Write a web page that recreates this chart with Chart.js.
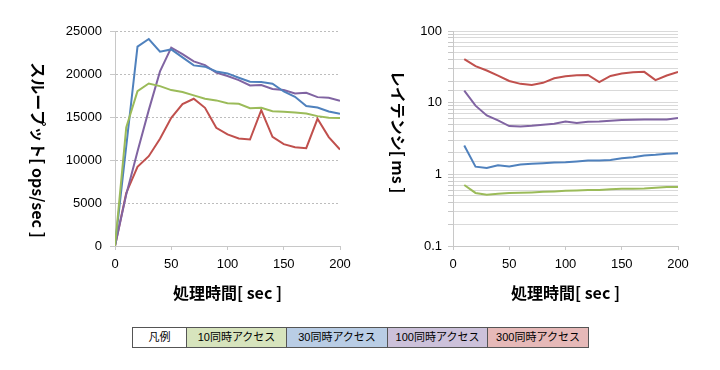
<!DOCTYPE html>
<html lang="ja">
<head>
<meta charset="utf-8">
<script src="https://cdn.jsdelivr.net/npm/chart.js@4/dist/chart.umd.min.js"></script>
<style>
    html, body { margin: 0; padding: 0; background: #fff; }
    body { width: 720px; height: 370px; position: relative; overflow: hidden; }
    .box { position: absolute; top: 0; width: 360px; height: 310px; }
    #legend {
        position: absolute; left: 132px; top: 327px;
        border-collapse: collapse; table-layout: fixed;
        font-family: "Liberation Sans", "Noto Sans CJK JP", sans-serif; font-size: 11px; color: #000;
    }
    #legend td {
        border: 1px solid #555; height: 19px; padding: 0;
        text-align: center; line-height: 19px; white-space: nowrap; overflow: hidden;
    }
</style>
</head>
<body>
<div class="box" style="left:0"><canvas id="throughputChart"></canvas></div>
<div class="box" style="left:360px"><canvas id="latencyChart"></canvas></div>
<table id="legend"><tr></tr></table>

<script>
// 処理時間 [sec]
const throughputTimes = [0, 10, 20, 30, 40, 50, 60, 70, 80, 90, 100, 110, 120, 130, 140, 150, 160, 170, 180, 190, 200];
const latencyTimes = [10, 20, 30, 40, 50, 60, 70, 80, 90, 100, 110, 120, 130, 140, 150, 160, 170, 180, 190, 200];

const seriesNames = ["10同時アクセス", "30同時アクセス", "100同時アクセス", "300同時アクセス"];
const seriesColors = ["#9BBB59", "#4F81BD", "#8064A2", "#C0504D"];
const legendFills = ["#D7E4BD", "#B9CDE5", "#CCC1DA", "#E6B9B8"];

// スループット [ops/sec]
const throughput10 = [0, 13780, 18010, 18900, 18590, 18130, 17900, 17510, 17120, 16930, 16610, 16540, 16030, 16070, 15680, 15600, 15530, 15410, 15100, 14910, 14870];
const throughput30 = [0, 11600, 23180, 24070, 22590, 22860, 21930, 21000, 20850, 20300, 20070, 19570, 19100, 19060, 18870, 17970, 17350, 16270, 16110, 15640, 15370];
const throughput100 = [0, 6000, 11000, 15800, 20300, 23060, 22320, 21470, 21040, 20150, 19760, 19290, 18670, 18710, 18250, 18130, 17740, 17820, 17310, 17240, 16890];
const throughput300 = [0, 6170, 9200, 10440, 12460, 14910, 16500, 17120, 16070, 13740, 12970, 12500, 12380, 15800, 12690, 11840, 11490, 11370, 14790, 12660, 11220];

// レイテンシ [ms]
const latency10 = [0.71, 0.55, 0.52, 0.535, 0.55, 0.553, 0.56, 0.57, 0.578, 0.59, 0.597, 0.603, 0.603, 0.62, 0.63, 0.63, 0.636, 0.65, 0.665, 0.665];
const latency30 = [2.52, 1.28, 1.23, 1.34, 1.29, 1.37, 1.41, 1.43, 1.46, 1.47, 1.51, 1.56, 1.56, 1.59, 1.68, 1.73, 1.83, 1.87, 1.93, 1.97];
const latency100 = [14.7, 9.08, 6.64, 5.65, 4.71, 4.66, 4.76, 4.91, 5.08, 5.47, 5.19, 5.42, 5.47, 5.59, 5.71, 5.78, 5.84, 5.84, 5.84, 6.10];
const latency300 = [40.5, 32.3, 28.1, 23.9, 20.1, 18.3, 17.7, 18.9, 21.9, 23.4, 24.2, 24.4, 19.3, 23.6, 25.5, 26.6, 26.9, 20.6, 23.9, 26.9];

const xTicks = [0, 50, 100, 150, 200];
const throughputTicks = [0, 5000, 10000, 15000, 20000, 25000];
const latencyTicks = [0.1, 1, 10, 100];

const jpFont = '"Noto Sans CJK JP", sans-serif';
const numFont = '"Liberation Sans", Arial, sans-serif';
const axisGray = "#C8C8C8";

// y軸タイトル (上から下へ読む向き)
const sideTitle = {
    id: "sideTitle",
    afterDraw(chart, args, opts) {
        const ctx = chart.ctx;
        ctx.save();
        ctx.translate(opts.x, opts.y);
        ctx.rotate(Math.PI / 2);
        ctx.font = "bold 16px " + jpFont;
        ctx.fillStyle = "#000";
        ctx.textAlign = "center";
        ctx.textBaseline = "middle";
        ctx.fillText(opts.text, 0, 0);
        ctx.restore();
    },
};

function buildDatasets(times, seriesList) {
    return seriesList.map((values, i) => ({
        label: seriesNames[i],
        data: values.map((v, j) => ({ x: times[j], y: v })),
        borderColor: seriesColors[i],
        backgroundColor: seriesColors[i],
        borderWidth: 2,
        pointRadius: 0,
        tension: 0,
    }));
}

function xScale() {
    return {
        type: "linear",
        min: 0,
        max: 200,
        afterBuildTicks(scale) {
            scale.ticks = xTicks.map((v) => ({ value: v }));
        },
        afterFit(scale) {
            scale.height = 64;
        },
        grid: { drawOnChartArea: false, tickLength: 4, color: axisGray },
        border: { color: axisGray },
        ticks: {
            padding: 7,
            color: "#000",
            font: { family: numFont, size: 13 },
            callback: (value) => String(value),
        },
        title: {
            display: true,
            text: "処理時間[ sec ]",
            color: "#000",
            font: { family: jpFont, size: 16, weight: "bold" },
            padding: { top: 0, bottom: 7 },
        },
    };
}

function createThroughputChart() {
    const canvas = document.getElementById("throughputChart");
    new Chart(canvas.getContext("2d"), {
        type: "line",
        data: {
            datasets: buildDatasets(throughputTimes, [throughput10, throughput30, throughput100, throughput300]),
        },
        options: {
            responsive: true,
            maintainAspectRatio: false,
            animation: false,
            layout: { padding: { top: 31, right: 20, bottom: 0, left: 0 } },
            scales: {
                x: xScale(),
                y: {
                    type: "linear",
                    min: 0,
                    max: 25000,
                    afterBuildTicks(scale) {
                        scale.ticks = throughputTicks.map((v) => ({ value: v }));
                    },
                    afterFit(scale) {
                        scale.width = 115;
                    },
                    grid: { color: "#BDBDBD", tickLength: 5, tickColor: axisGray },
                    border: { color: axisGray, dash: [2, 2] },
                    ticks: {
                        padding: 8,
                        color: "#000",
                        font: { family: numFont, size: 13 },
                        callback: (value) => String(value),
                    },
                },
            },
            plugins: {
                legend: { display: false },
                tooltip: { enabled: false },
                sideTitle: { text: "スループット[ ops/sec ]", x: 38, y: 150 },
            },
        },
        plugins: [sideTitle],
    });
}

function createLatencyChart() {
    const canvas = document.getElementById("latencyChart");
    new Chart(canvas.getContext("2d"), {
        type: "line",
        data: {
            datasets: buildDatasets(latencyTimes, [latency10, latency30, latency100, latency300]),
        },
        options: {
            responsive: true,
            maintainAspectRatio: false,
            animation: false,
            layout: { padding: { top: 31, right: 42, bottom: 0, left: 0 } },
            scales: {
                x: xScale(),
                y: {
                    type: "logarithmic",
                    min: 0.1,
                    max: 100,
                    afterFit(scale) {
                        scale.width = 93;
                    },
                    grid: { color: "#D9D9D9", tickLength: 5, tickColor: axisGray },
                    border: { color: axisGray },
                    ticks: {
                        autoSkip: false,
                        padding: 6,
                        color: "#000",
                        font: { family: numFont, size: 13 },
                        callback(value) {
                            const hit = latencyTicks.find((t) => Math.abs(t - value) < 1e-9);
                            return hit !== undefined ? String(hit) : "";
                        },
                    },
                },
            },
            plugins: {
                legend: { display: false },
                tooltip: { enabled: false },
                sideTitle: { text: "レイテンシ[ ms ]", x: 38, y: 132 },
            },
        },
        plugins: [sideTitle],
    });
}

function buildLegend() {
    const row = document.querySelector("#legend tr");
    const head = document.createElement("td");
    head.textContent = "凡例";
    head.style.width = "53px";
    head.style.background = "#fff";
    row.appendChild(head);
    seriesNames.forEach((name, i) => {
        const cell = document.createElement("td");
        cell.textContent = name;
        cell.style.width = (i % 2 === 0 ? 99 : 100) + "px";
        cell.style.background = legendFills[i];
        row.appendChild(cell);
    });
}

buildLegend();
createThroughputChart();
createLatencyChart();
</script>
</body>
</html>
